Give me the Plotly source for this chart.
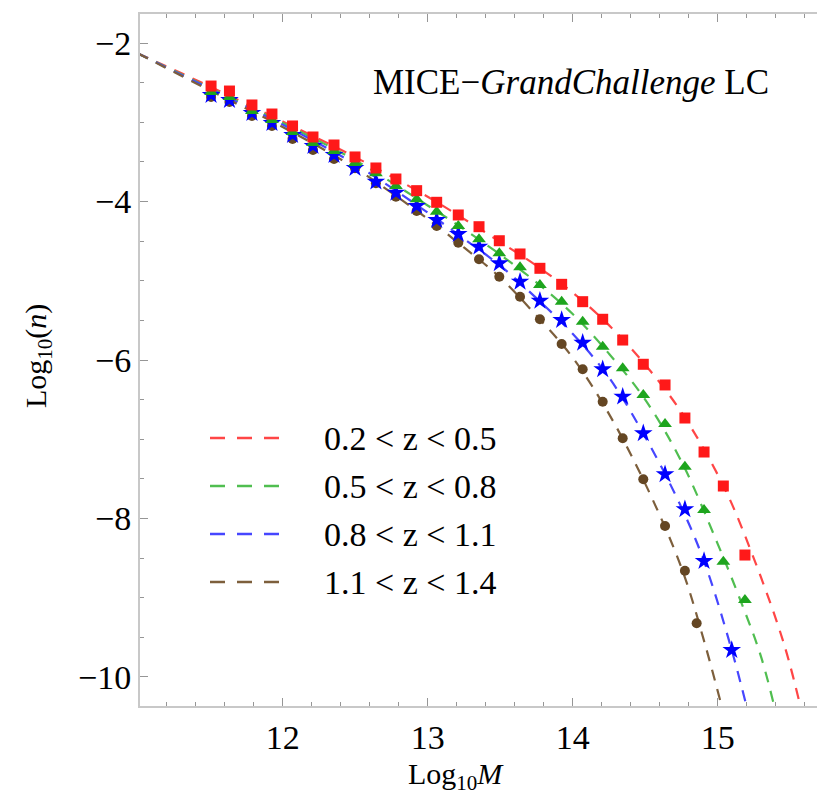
import plotly.graph_objects as go

# ---- data -------------------------------------------------------------
labels = ["0.2 < z < 0.5", "0.5 < z < 0.8", "0.8 < z < 1.1", "1.1 < z < 1.4"]

# halo mass bins (log10 M) of the measured points
M_bins = [11.506, 11.633, 11.788, 11.926, 12.068, 12.209, 12.354, 12.499, 12.643,
          12.781, 12.924, 13.062, 13.211, 13.354, 13.494, 13.637, 13.774, 13.924,
          14.069, 14.207, 14.345, 14.487, 14.637, 14.774, 14.906, 15.039, 15.188]

# measured log10(n)
n_z1 = [-2.543, -2.606, -2.782, -2.896, -3.047, -3.186, -3.287, -3.438, -3.577,
        -3.716, -3.863, -4.010, -4.170, -4.318, -4.495, -4.662, -4.843, -5.045,
        -5.264, -5.486, -5.748, -6.054, -6.315, -6.732, -7.161, -7.590, -8.461]
M_z2 = M_bins
n_z2 = [-2.618, -2.681, -2.858, -2.972, -3.123, -3.262, -3.363, -3.514, -3.644,
        -3.804, -3.972, -4.129, -4.309, -4.477, -4.654, -4.830, -5.054, -5.265,
        -5.517, -5.832, -6.105, -6.442, -6.808, -7.346, -7.893, -8.545, -9.028]
M_z3 = M_bins[:25] + [15.097]
n_z3 = [-2.656, -2.719, -2.883, -3.009, -3.161, -3.300, -3.413, -3.577, -3.750,
        -3.889, -4.057, -4.233, -4.410, -4.570, -4.780, -5.012, -5.252, -5.495,
        -5.782, -6.117, -6.463, -6.925, -7.442, -7.884, -8.536, -9.659]
M_z4 = M_bins[:24] + [14.855]
n_z4 = [-2.681, -2.744, -2.921, -3.047, -3.211, -3.350, -3.464, -3.581, -3.770,
        -3.939, -4.120, -4.309, -4.520, -4.729, -4.949, -5.201, -5.486, -5.798,
        -6.117, -6.526, -6.988, -7.505, -8.095, -8.659, -9.322]

# fitted mass-function curves
fit_M_z1 = [11.0, 11.5, 12.0, 12.5, 13.0, 13.25, 13.5, 13.75, 14.0, 14.25, 14.5, 14.75, 15.04, 15.24, 15.46, 15.6]
fit_n_z1 = [-2.13, -2.55, -2.99, -3.44, -3.94, -4.22, -4.51, -4.81, -5.15, -5.56, -6.06, -6.66, -7.59, -8.46, -9.6, -10.6]
fit_M_z2 = [11.0, 11.5, 12.0, 12.5, 13.0, 13.25, 13.5, 13.75, 14.0, 14.25, 14.5, 14.75, 15.0, 15.15, 15.3, 15.42]
fit_n_z2 = [-2.13, -2.57, -3.01, -3.48, -4.05, -4.35, -4.67, -5.02, -5.42, -5.92, -6.50, -7.28, -8.32, -9.0, -9.75, -10.6]
fit_M_z3 = [11.0, 11.5, 12.0, 12.5, 13.0, 13.25, 13.5, 13.75, 14.0, 14.25, 14.5, 14.75, 14.91, 15.1, 15.23]
fit_n_z3 = [-2.13, -2.58, -3.03, -3.53, -4.14, -4.47, -4.81, -5.22, -5.67, -6.22, -6.97, -7.86, -8.56, -9.68, -10.6]
fit_M_z4 = [11.0, 11.5, 12.0, 12.5, 13.0, 13.25, 13.5, 13.75, 14.0, 14.25, 14.5, 14.75, 14.91, 15.06]
fit_n_z4 = [-2.13, -2.60, -3.06, -3.58, -4.22, -4.58, -4.96, -5.44, -5.97, -6.68, -7.56, -8.62, -9.57, -10.6]

x_ticks = [12, 13, 14, 15]
y_ticks = [-2, -4, -6, -8, -10]

# ---- styling ------------------------------------------------------------
W, H = 817, 799
L, T, B = 140, 14, 93          # plot-area margins in px
PW, PH = W - L, H - T - B
FONT = "Liberation Serif, Times New Roman, serif"

line_cols = ["rgb(255,70,70)", "rgb(80,190,80)", "rgb(70,70,255)", "rgb(125,95,60)"]
mark_cols = ["rgb(255,25,25)", "rgb(30,165,30)", "rgb(0,0,255)", "rgb(100,70,35)"]
symbols = ["square", "triangle-up", "star", "circle"]
sizes = [11, 12, 14, 10]
DASH = "11px,9px"

fits = [(fit_M_z1, fit_n_z1), (fit_M_z2, fit_n_z2), (fit_M_z3, fit_n_z3), (fit_M_z4, fit_n_z4)]
points = [(M_bins, n_z1), (M_z2, n_z2), (M_z3, n_z3), (M_z4, n_z4)]

fig = go.Figure()

for (mx, ny), col, lab in zip(fits, line_cols, labels):
    fig.add_trace(go.Scatter(x=mx, y=ny, mode="lines", name=lab, showlegend=False,
                             line=dict(color=col, width=2.2, dash=DASH, shape="spline")))

for i in [3, 2, 1, 0]:
    mx, ny = points[i]
    fig.add_trace(go.Scatter(x=mx, y=ny, mode="markers", showlegend=False,
                             marker=dict(symbol=symbols[i], size=sizes[i], color=mark_cols[i],
                                         line=dict(width=0))))


def px_to_paper(px, py):
    return (px - L) / PW, (H - B - py) / PH


annotations = []
shapes = []

# legend: dashed samples and labels
legend_rows = [438, 486, 534, 582]
for lab, col, row in zip(labels, line_cols, legend_rows):
    x0, y0 = px_to_paper(210, row)
    x1, _ = px_to_paper(282, row)
    shapes.append(dict(type="line", xref="paper", yref="paper", x0=x0, x1=x1, y0=y0, y1=y0,
                       line=dict(color=col, width=2.4, dash="15px,12px")))
    tx, _ = px_to_paper(322, row)
    annotations.append(dict(text=lab, xref="paper", yref="paper", x=tx, y=y0,
                            xanchor="left", yanchor="middle", showarrow=False,
                            font=dict(family=FONT, size=34, color="black")))

tx, ty = px_to_paper(571, 83)
annotations.append(dict(text="MICE\u2212<i>GrandChallenge</i> LC", xref="paper", yref="paper",
                        x=tx, y=ty, xanchor="center", yanchor="middle", showarrow=False,
                        font=dict(family=FONT, size=35, color="black")))

tx, ty = px_to_paper(456, 776)
annotations.append(dict(text="Log<sub>10</sub><i>M</i>", xref="paper", yref="paper",
                        x=tx, y=ty, xanchor="center", yanchor="middle", showarrow=False,
                        font=dict(family=FONT, size=30, color="black")))

tx, ty = px_to_paper(38, 356)
annotations.append(dict(text="Log<sub>10</sub>(<i>n</i>)", xref="paper", yref="paper",
                        x=tx, y=ty, xanchor="center", yanchor="middle", showarrow=False,
                        textangle=-90, font=dict(family=FONT, size=30, color="black")))

frame = "rgb(200,200,200)"
tickc = "rgb(150,150,150)"

fig.update_layout(
    width=W, height=H,
    margin=dict(l=L, r=0, t=T, b=B),
    paper_bgcolor="white", plot_bgcolor="white",
    showlegend=False,
    annotations=annotations, shapes=shapes,
    xaxis=dict(range=[11.016, 15.685], tickvals=x_ticks, ticktext=[str(v) for v in x_ticks],
               showgrid=False, zeroline=False, showline=True, linecolor=frame, linewidth=2,
               mirror="ticks", ticks="inside", ticklen=8, tickwidth=1, tickcolor=tickc,
               minor=dict(dtick=0.2, tick0=12, ticks="inside", ticklen=4, tickcolor=tickc),
               tickfont=dict(family=FONT, size=34, color="black")),
    yaxis=dict(range=[-10.366, -1.634], tickvals=y_ticks,
               ticktext=["\u2212" + str(-v) for v in y_ticks],
               showgrid=False, zeroline=False, showline=True, linecolor=frame, linewidth=2,
               ticks="inside", ticklen=8, tickwidth=1, tickcolor=tickc,
               minor=dict(dtick=0.5, tick0=-2, ticks="inside", ticklen=4, tickcolor=tickc),
               tickfont=dict(family=FONT, size=34, color="black")),
)

fig.write_html("out.html")
